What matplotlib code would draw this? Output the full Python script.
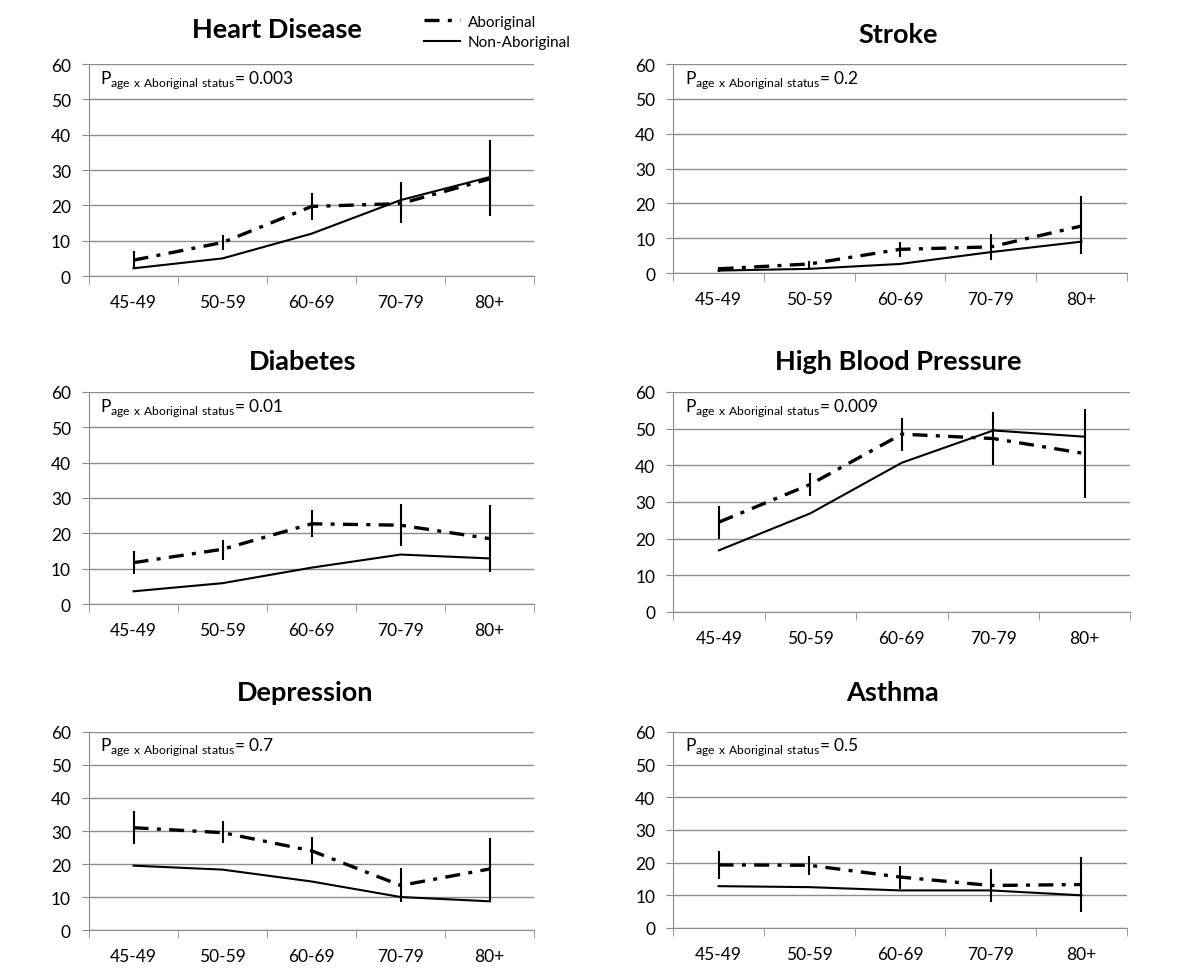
import matplotlib
matplotlib.use("Agg")
import matplotlib.pyplot as plt
from matplotlib.lines import Line2D

plt.rcParams['font.family'] = ['Lato', 'DejaVu Sans']
plt.rcParams['mathtext.fontset'] = 'custom'
plt.rcParams['mathtext.rm'] = 'Lato'

# Age groups
ages = ["45-49", "50-59", "60-69", "70-79", "80+"]

# Heart Disease
heart_ab = [4.5, 9.5, 19.7, 20.5, 27.5]
heart_ab_lo = [2.3, 7.5, 16.0, 15.0, 17.0]
heart_ab_hi = [7.0, 11.5, 23.5, 26.5, 38.5]
heart_non = [2.2, 5.0, 12.0, 21.5, 28.0]
heart_p = "0.003"

# Stroke
stroke_ab = [1.2, 2.6, 6.8, 7.5, 13.5]
stroke_ab_lo = [0.4, 1.0, 4.5, 3.8, 5.5]
stroke_ab_hi = [1.8, 3.5, 9.0, 11.2, 22.0]
stroke_non = [0.7, 1.2, 2.6, 6.0, 9.0]
stroke_p = "0.2"

# Diabetes
diab_ab = [11.7, 15.5, 22.7, 22.3, 18.5]
diab_ab_lo = [8.5, 12.5, 19.0, 16.5, 9.0]
diab_ab_hi = [15.0, 18.0, 26.5, 28.3, 28.0]
diab_non = [3.6, 5.9, 10.3, 14.0, 12.9]
diab_p = "0.01"

# High Blood Pressure
hbp_ab = [24.5, 34.8, 48.5, 47.3, 43.2]
hbp_ab_lo = [20.0, 31.5, 44.0, 40.0, 31.0]
hbp_ab_hi = [29.0, 38.0, 53.0, 54.5, 55.3]
hbp_non = [16.8, 26.9, 40.7, 49.5, 47.8]
hbp_p = "0.009"

# Depression
dep_ab = [31.0, 29.5, 24.0, 13.5, 18.5]
dep_ab_lo = [26.0, 26.5, 20.0, 8.5, 8.5]
dep_ab_hi = [36.0, 33.0, 28.2, 18.7, 28.0]
dep_non = [19.5, 18.3, 14.7, 10.0, 8.7]
dep_p = "0.7"

# Asthma
asth_ab = [19.3, 19.2, 15.6, 13.0, 13.3]
asth_ab_lo = [15.0, 16.2, 12.0, 8.0, 5.0]
asth_ab_hi = [23.7, 22.0, 19.0, 18.0, 21.8]
asth_non = [12.8, 12.5, 11.5, 11.5, 10.0]
asth_p = "0.5"

panels = [
    ("Heart Disease", heart_ab, heart_ab_lo, heart_ab_hi, heart_non, heart_p,
     [0.0742, 0.717, 0.371, 0.2166], 277, 30),
    ("Stroke", stroke_ab, stroke_ab_lo, stroke_ab_hi, stroke_non, stroke_p,
     [0.561, 0.7201, 0.378, 0.2135], 898, 35),
    ("Diabetes", diab_ab, diab_ab_lo, diab_ab_hi, diab_non, diab_p,
     [0.0742, 0.382, 0.371, 0.2166], 303, 362),
    ("High Blood Pressure", hbp_ab, hbp_ab_lo, hbp_ab_hi, hbp_non, hbp_p,
     [0.561, 0.3739, 0.381, 0.2247], 898, 362),
    ("Depression", dep_ab, dep_ab_lo, dep_ab_hi, dep_non, dep_p,
     [0.0742, 0.049, 0.371, 0.2023], 305, 693),
    ("Asthma", asth_ab, asth_ab_lo, asth_ab_hi, asth_non, asth_p,
     [0.561, 0.0511, 0.378, 0.2002], 893, 693),
]

W, H = 1200, 979
fig = plt.figure(figsize=(12, 9.79), dpi=100)

dashdot = (0, (4.5, 2.5, 1.2, 2.5))
grey = "#8c8c8c"

for title, ab, lo, hi, non, p, rect, tx, ty in panels:
    ax = fig.add_axes(rect)
    x = list(range(len(ages)))
    yerr = [[a - l for a, l in zip(ab, lo)], [h - a for a, h in zip(ab, hi)]]
    ax.plot(x, non, color="black", lw=1.5, solid_joinstyle="miter")
    ax.plot(x, ab, color="black", lw=2.4, linestyle=dashdot)
    ax.errorbar(x, ab, yerr=yerr, fmt="none", ecolor="black", elinewidth=1.5, capsize=0)

    ax.set_xlim(-0.5, 4.5)
    ax.set_ylim(0, 60)
    ax.set_yticks(range(0, 61, 10))
    ax.set_xticks(x)
    ax.set_xticklabels(ages)
    ax.set_xticks([-0.5, 0.5, 1.5, 2.5, 3.5, 4.5], minor=True)
    ax.tick_params(axis="x", which="major", length=0, pad=13, labelsize=12.5)
    ax.tick_params(axis="x", which="minor", length=6, color=grey, direction="out")
    ax.tick_params(axis="y", length=5, color=grey, labelsize=12.5, pad=8)
    ax.yaxis.grid(True, color=grey, lw=1)
    ax.set_axisbelow(True)
    for s in ["top", "right"]:
        ax.spines[s].set_visible(False)
    ax.spines["left"].set_color(grey)
    ax.spines["bottom"].set_color(grey)

    ax.text(0.025, 0.93, r"P$_\mathrm{age\ x\ Aboriginal\ status}$= " + p,
            transform=ax.transAxes, fontsize=12.5, va="center", ha="left")

    fig.text(tx / W, 1 - ty / H, title, fontsize=19.5, fontweight="bold",
             ha="center", va="center")

handles = [
    Line2D([], [], color="black", lw=2.4, linestyle=dashdot),
    Line2D([], [], color="black", lw=1.5),
]
fig.legend(handles, ["Aboriginal", "Non-Aboriginal"], loc="upper left",
           bbox_to_anchor=(410 / W, 1 - 2 / H), frameon=False, fontsize=11,
           handlelength=2.4, handletextpad=0.5, labelspacing=0.4)

fig.savefig("out.png", dpi=100, facecolor="white")
